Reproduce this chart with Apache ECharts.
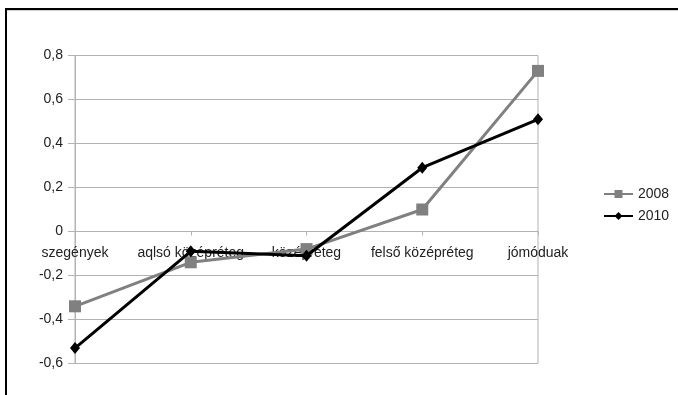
<!DOCTYPE html>
<html>
<head>
<meta charset="utf-8">
<script src="https://cdn.jsdelivr.net/npm/echarts@6/dist/echarts.min.js"></script>
<style>
  html, body { margin: 0; padding: 0; background: #fff; }
  #chart { position: absolute; left: 0; top: 0; width: 678px; height: 395px; }
  #frame {
    position: absolute; left: 5px; top: 8px; right: 0; bottom: 0;
    border-top: 2px solid #000; border-left: 2px solid #000;
    box-shadow: inset 0 1px 0 #d0d0d0;
    pointer-events: none;
  }
</style>
</head>
<body>
<div id="chart"></div>
<div id="frame"></div>
<script>
// Income groups along the horizontal axis
const categories = ['szegények', 'aqlsó középréteg', 'középréteg', 'felső középréteg', 'jómóduak'];
// Index values per survey year
const values2008 = [-0.34, -0.14, -0.08, 0.10, 0.73];
const values2010 = [-0.53, -0.09, -0.11, 0.29, 0.51];
// Value axis labels, bottom to top
const yTickLabels = ['-0,6', '-0,4', '-0,2', '0', '0,2', '0,4', '0,6', '0,8'];

const chart = echarts.init(document.getElementById('chart'));
const gridColor = '#b3b3b3';
const textStyle = { fontFamily: 'Liberation Sans, Arial, sans-serif', fontSize: 14, color: '#222' };

chart.setOption({
  animation: false,
  backgroundColor: '#fff',
  grid: { left: 75, right: 140, top: 55.5, bottom: 31.5, show: true, borderColor: gridColor, borderWidth: 1 },
  legend: {
    orient: 'vertical',
    left: 598,
    top: 182,
    itemWidth: 29,
    itemHeight: 10,
    itemGap: 8,
    textStyle: textStyle,
    data: ['2008', '2010']
  },
  xAxis: {
    type: 'category',
    data: categories,
    boundaryGap: false,
    axisLine: { show: true, onZero: true, lineStyle: { color: gridColor, width: 1 } },
    axisTick: { show: true, length: 4, alignWithLabel: true, lineStyle: { color: gridColor } },
    // category names sit just under the zero line
    axisLabel: Object.assign({ margin: -117, interval: 0 }, textStyle),
    splitLine: { show: false }
  },
  yAxis: {
    type: 'value',
    min: -0.6,
    max: 0.8,
    interval: 0.2,
    axisLine: { show: true, lineStyle: { color: gridColor, width: 1 } },
    axisTick: { show: true, length: 7, lineStyle: { color: gridColor } },
    axisLabel: Object.assign({
      margin: 12,
      formatter: function (v) {
        const idx = Math.round((v + 0.6) / 0.2);
        return yTickLabels[idx];
      }
    }, textStyle),
    splitLine: { show: true, lineStyle: { color: gridColor, width: 1 } }
  },
  series: [
    {
      name: '2008',
      type: 'line',
      data: values2008,
      symbol: 'rect',
      symbolSize: 12,
      itemStyle: { color: '#808080' },
      lineStyle: { color: '#808080', width: 3 },
      z: 2
    },
    {
      name: '2010',
      type: 'line',
      data: values2010,
      symbol: 'diamond',
      symbolSize: [10, 12],
      itemStyle: { color: '#000' },
      lineStyle: { color: '#000', width: 3 },
      z: 3
    }
  ]
});
</script>
</body>
</html>
